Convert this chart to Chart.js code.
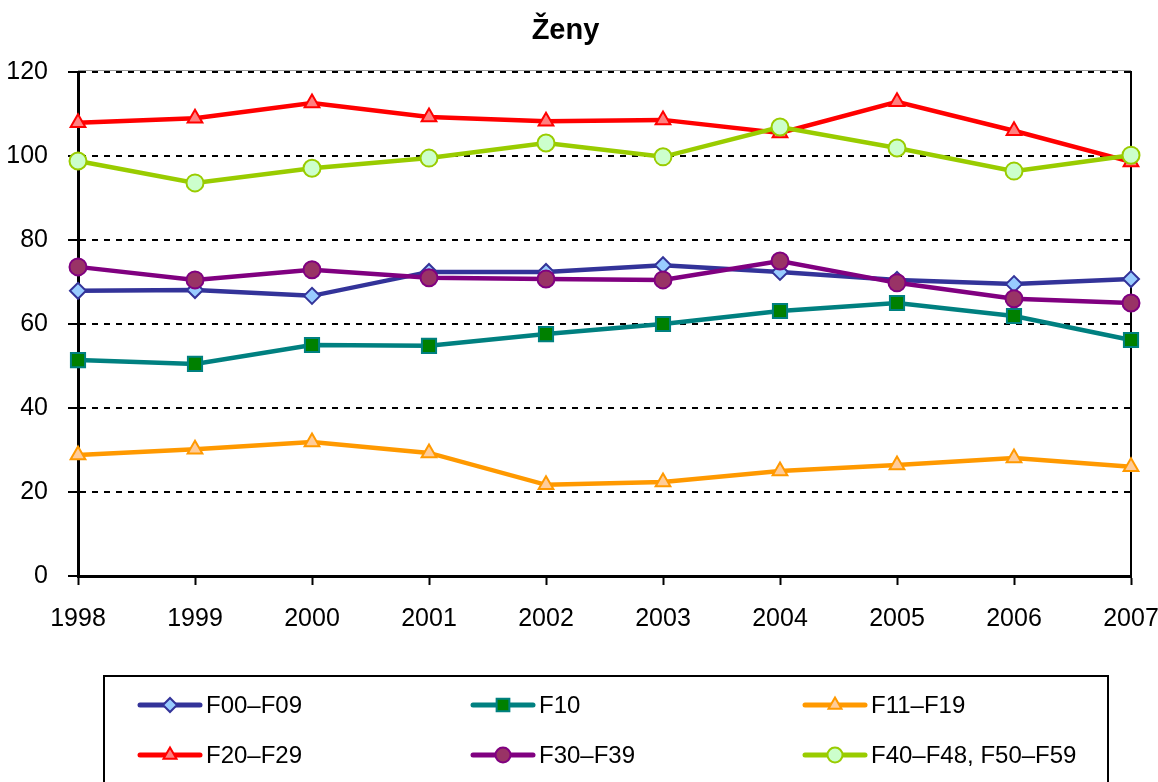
<!DOCTYPE html>
<html lang="cs">
<head>
    <meta charset="UTF-8">
    <title>Ženy</title>
    <script src="https://cdn.jsdelivr.net/npm/chart.js"></script>
    <style>
        body {
            margin: 0;
            padding: 0;
            background: white;
        }
        .chart-container {
            width: 1158px;
            height: 782px;
        }
    </style>
</head>
<body>
    <div class="chart-container">
        <canvas id="zenyChart"></canvas>
    </div>

    <script>
        const years = ['1998', '1999', '2000', '2001', '2002', '2003', '2004', '2005', '2006', '2007'];
        const yTicks = [0, 20, 40, 60, 80, 100, 120];

        const f00_f09 = [67.9, 68.1, 66.7, 72.4, 72.4, 74.0, 72.4, 70.5, 69.5, 70.7];
        const f10 = [51.4, 50.5, 55.0, 54.8, 57.6, 60.0, 63.1, 65.0, 61.9, 56.2];
        const f11_f19 = [28.8, 30.2, 31.9, 29.3, 21.7, 22.4, 25.0, 26.4, 28.1, 26.0];
        const f20_f29 = [107.9, 109.0, 112.6, 109.3, 108.3, 108.6, 105.5, 112.9, 106.0, 98.6];
        const f30_f39 = [73.6, 70.5, 72.9, 71.0, 70.7, 70.5, 75.0, 69.8, 66.0, 65.0];
        const f40_f59 = [98.8, 93.6, 97.1, 99.5, 103.1, 99.8, 106.9, 101.9, 96.4, 100.2];

        const labelFont = "'Liberation Sans Narrow', 'Arial Narrow', 'Liberation Sans', Arial, sans-serif";

        function series(label, data, line, fill, style, radius, i) {
            return {
                label: label,
                data: data,
                borderColor: line,
                backgroundColor: fill,
                borderWidth: 4.5,
                pointStyle: style,
                pointRadius: radius,
                pointHoverRadius: radius,
                pointBorderWidth: 2,
                pointBorderColor: line,
                pointBackgroundColor: fill,
                tension: 0,
                clip: false,
                order: 6 - i
            };
        }

        // legend in a 3-column box under the plot
        const boxLegend = {
            id: 'boxLegend',
            afterDraw(chart) {
                const ctx = chart.ctx;
                const area = chart.chartArea;
                ctx.save();
                // light frame line along the top of the plot
                ctx.strokeStyle = '#999';
                ctx.lineWidth = 1;
                ctx.beginPath();
                ctx.moveTo(area.left, area.top - 1.5);
                ctx.lineTo(area.right, area.top - 1.5);
                ctx.stroke();

                ctx.strokeStyle = '#000';
                ctx.lineWidth = 2;
                ctx.strokeRect(104, 676, 1004, 130);
                const cols = [140, 473, 805];
                const rows = [705, 755];
                chart.data.datasets.forEach((ds, i) => {
                    const x = cols[i % 3];
                    const y = rows[Math.floor(i / 3)];
                    ctx.strokeStyle = ds.borderColor;
                    ctx.lineWidth = 5;
                    ctx.lineCap = 'round';
                    ctx.beginPath();
                    ctx.moveTo(x, y);
                    ctx.lineTo(x + 60, y);
                    ctx.stroke();
                    ctx.fillStyle = ds.pointBackgroundColor;
                    ctx.strokeStyle = ds.pointBorderColor;
                    ctx.lineWidth = 2;
                    Chart.helpers.drawPoint(ctx, {
                        pointStyle: ds.pointStyle,
                        radius: ds.pointRadius - 1,
                        borderWidth: 2,
                        rotation: 0
                    }, x + 30, y);
                    ctx.fillStyle = '#000';
                    ctx.font = '24px ' + labelFont;
                    ctx.textBaseline = 'middle';
                    ctx.textAlign = 'left';
                    ctx.fillText(ds.label, x + 66, y + 1);
                });
                ctx.restore();
            }
        };

        const ctx = document.getElementById('zenyChart').getContext('2d');
        const zenyChart = new Chart(ctx, {
            type: 'line',
            data: {
                labels: years,
                datasets: [
                    series('F00–F09', f00_f09, '#333399', '#99ccff', 'rectRot', 8, 0),
                    series('F10', f10, '#008080', '#008000', 'rect', 10, 1),
                    series('F11–F19', f11_f19, '#ff9900', '#ffcc99', 'triangle', 8.5, 2),
                    series('F20–F29', f20_f29, '#ff0000', '#ff8080', 'triangle', 8.5, 3),
                    series('F30–F39', f30_f39, '#800080', '#993366', 'circle', 8.5, 4),
                    series('F40–F48, F50–F59', f40_f59, '#99cc00', '#ccffcc', 'circle', 8.5, 5)
                ]
            },
            options: {
                responsive: true,
                maintainAspectRatio: false,
                animation: false,
                layout: {
                    padding: { left: 0, right: 27, top: 0, bottom: 130 }
                },
                plugins: {
                    legend: { display: false },
                    tooltip: { enabled: false },
                    title: {
                        display: true,
                        text: 'Ženy',
                        color: '#000',
                        font: { family: "'Liberation Sans', Arial, sans-serif", size: 29, weight: 'bold' },
                        padding: { top: 14, bottom: 23.2 }
                    }
                },
                scales: {
                    x: {
                        offset: false,
                        grid: {
                            drawOnChartArea: false,
                            drawTicks: true,
                            tickLength: 9,
                            tickWidth: 2,
                            tickColor: '#000'
                        },
                        border: { color: '#000', width: 3 },
                        ticks: {
                            color: '#000',
                            padding: 19,
                            maxRotation: 0,
                            autoSkip: false,
                            font: { family: labelFont, size: 25 }
                        },
                        afterFit(scale) {
                            scale.height = 76;
                            scale.paddingLeft = 0;
                            scale.paddingRight = 0;
                        }
                    },
                    y: {
                        min: 0,
                        max: 120,
                        afterBuildTicks(scale) {
                            scale.ticks = yTicks.map(v => ({ value: v }));
                        },
                        grid: {
                            color: '#000',
                            lineWidth: 2,
                            tickLength: 10,
                            tickWidth: 2,
                            tickColor: '#000',
                            tickBorderDash: []
                        },
                        border: { color: '#000', width: 3, dash: [6, 6] },
                        ticks: {
                            color: '#000',
                            padding: 20,
                            font: { family: labelFont, size: 25 }
                        },
                        afterFit(scale) { scale.width = 78; }
                    },
                    y2: {
                        position: 'right',
                        min: 0,
                        max: 120,
                        grid: { drawOnChartArea: false, drawTicks: false },
                        border: { color: '#000', width: 2 },
                        ticks: { display: false },
                        afterFit(scale) { scale.width = 0; }
                    }
                }
            },
            plugins: [boxLegend]
        });
    </script>
</body>
</html>
